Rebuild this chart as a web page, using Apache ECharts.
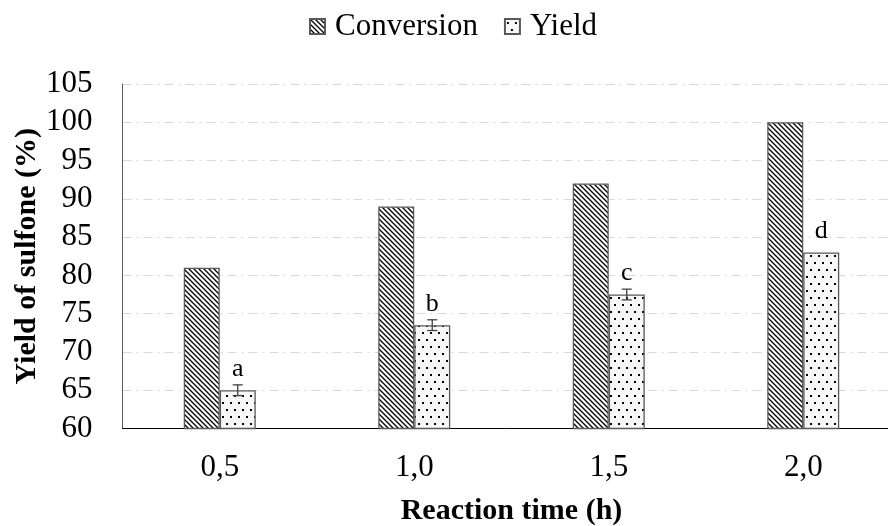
<!DOCTYPE html>
<html>
<head>
<meta charset="utf-8">
<script src="https://cdn.jsdelivr.net/npm/echarts@6/dist/echarts.min.js"></script>
<style>html,body{margin:0;padding:0;background:#fff}#c{width:888px;height:526px}</style>
</head>
<body>
<div id="c"></div>
<script>
var categories = ['0,5', '1,0', '1,5', '2,0'];
var conversion = [81, 89, 92, 100];
var yieldVals = [65, 73.5, 77.5, 83];
var yieldErr = [0.7, 0.7, 0.7, 0];
var letters = ['a', 'b', 'c', 'd'];
var yTicks = { min: 60, max: 105, step: 5 };

function hatchPattern() {
  var c = document.createElement('canvas');
  c.width = 5; c.height = 5;
  var g = c.getContext('2d');
  g.fillStyle = '#fff'; g.fillRect(0, 0, 5, 5);
  g.strokeStyle = '#000'; g.lineWidth = 1.3;
  g.beginPath();
  g.moveTo(-1, -1); g.lineTo(6, 6);
  g.moveTo(-1, 4); g.lineTo(1, 6);
  g.moveTo(4, -1); g.lineTo(6, 1);
  g.stroke();
  return c;
}
function dotPattern() {
  var c = document.createElement('canvas');
  c.width = 8; c.height = 14;
  var g = c.getContext('2d');
  g.fillStyle = '#f8f8f8'; g.fillRect(0, 0, 8, 14);
  g.fillStyle = '#000';
  g.fillRect(2, 3, 2, 2);
  g.fillRect(6, 10, 2, 2);
  return c;
}
var FONT = 'Liberation Serif';
var chart = echarts.init(document.getElementById('c'));
var errData = yieldVals.map(function (v, i) { return [i, v, yieldErr[i]]; });

chart.setOption({
  animation: false,
  backgroundColor: '#fff',
  legend: {
    top: 6, left: 304,
    itemWidth: 15, itemHeight: 15, itemGap: 26,
    icon: 'rect',
    textStyle: { fontFamily: FONT, fontSize: 31, color: '#000', padding: [0, 0, 0, 5] },
    data: ['Conversion', 'Yield']
  },
  grid: { left: 122.5, top: 84, height: 344.5, width: 778, containLabel: false, outerBoundsMode: 'none' },
  xAxis: {
    type: 'category',
    data: categories,
    axisTick: { show: false },
    axisLine: { lineStyle: { color: '#000', width: 1 } },
    axisLabel: { fontFamily: FONT, fontSize: 31, color: '#000', margin: 24 },
    name: 'Reaction time (h)',
    nameLocation: 'middle',
    nameGap: 68,
    nameMoveOverlap: false,
    nameTextStyle: { fontFamily: FONT, fontSize: 30, fontWeight: 'bold', color: '#000' }
  },
  yAxis: {
    type: 'value',
    min: yTicks.min, max: yTicks.max, interval: yTicks.step,
    axisLine: { show: true, lineStyle: { color: '#595959', width: 1 } },
    axisTick: { show: false },
    axisLabel: { fontFamily: FONT, fontSize: 31, color: '#000', margin: 30 },
    splitLine: { lineStyle: { color: '#d9d9d9', width: 1.2, type: [9, 5, 2, 5] } },
    name: 'Yield of sulfone (%)',
    nameLocation: 'middle',
    nameGap: 80,
    nameMoveOverlap: false,
    nameTextStyle: { fontFamily: FONT, fontSize: 30, fontWeight: 'bold', color: '#000' }
  },
  series: [
    {
      name: 'Conversion', type: 'bar', data: conversion,
      barWidth: 36, barGap: '0%',
      itemStyle: { color: { image: hatchPattern(), repeat: 'repeat' }, borderColor: '#595959', borderWidth: 1.3 }
    },
    {
      name: 'Yield', type: 'bar', data: yieldVals,
      barWidth: 36,
      itemStyle: { color: { image: dotPattern(), repeat: 'repeat' }, borderColor: '#595959', borderWidth: 1.3 },
      label: {
        show: true, position: 'top', distance: 8,
        fontFamily: FONT, fontSize: 26, color: '#000',
        formatter: function (p) { return letters[p.dataIndex]; }
      }
    },
    {
      type: 'custom', name: 'err', data: errData, z: 5,
      renderItem: function (params, api) {
        var i = api.value(0), v = api.value(1), e = api.value(2);
        if (!e) return null;
        var hi = api.coord([i, v + e]);
        var lo = api.coord([i, v - e]);
        var x = hi[0] + 18;
        var cw = 5;
        var st = { stroke: '#404040', lineWidth: 1.3 };
        return {
          type: 'group',
          children: [
            { type: 'line', shape: { x1: x, y1: hi[1], x2: x, y2: lo[1] }, style: st },
            { type: 'line', shape: { x1: x - cw, y1: hi[1], x2: x + cw, y2: hi[1] }, style: st },
            { type: 'line', shape: { x1: x - cw, y1: lo[1], x2: x + cw, y2: lo[1] }, style: st }
          ]
        };
      }
    }
  ]
});
</script>
</body>
</html>
